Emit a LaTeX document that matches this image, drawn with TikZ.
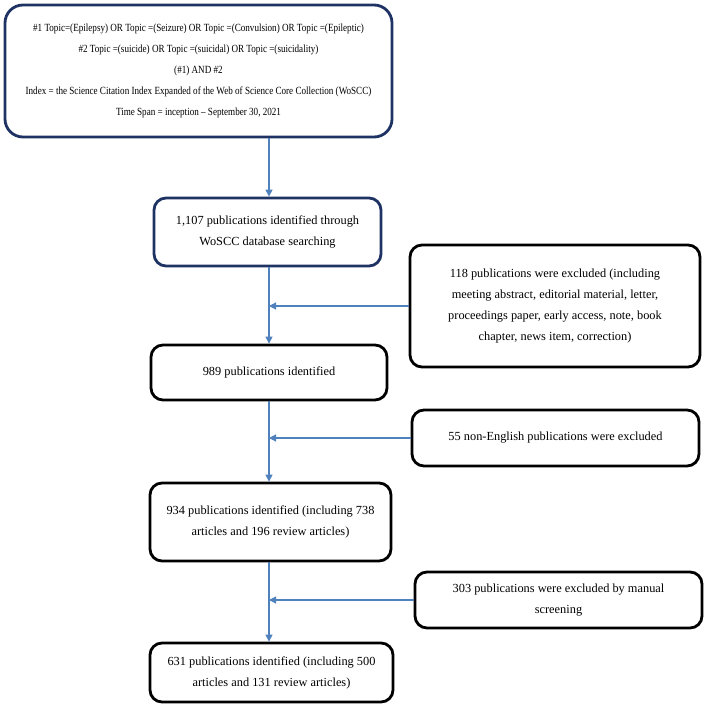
\documentclass[tikz,border=0pt]{standalone}
\usepackage{fontspec}
\setmainfont{Liberation Serif}
\newfontfamily\topfont[FakeStretch=0.83,Ligatures=TeX]{Liberation Serif}
\usetikzlibrary{arrows.meta}
\definecolor{navy}{HTML}{1F3264}
\definecolor{arrowblue}{HTML}{4F81BD}
\tikzset{
  navybox/.style={draw=navy, line width=2.8bp, rounded corners=12bp, align=center, inner sep=0pt},
  blackbox/.style={draw=black, line width=2.8bp, rounded corners=12bp, align=center, inner sep=0pt},
  flow/.style={draw=arrowblue, line width=1.1bp, -{Triangle[width=7bp,length=7bp]}},
  maintext/.style={font=\fontsize{12.4}{21}\selectfont},
  toptext/.style={font=\topfont\fontsize{11}{21.2}\selectfont}
}
\begin{document}
\begin{tikzpicture}[x=1bp,y=-1bp]
\useasboundingbox (0,0) rectangle (708,708);
\node[navybox, toptext, rounded corners=18bp, minimum width=387bp, minimum height=132bp] (top) at (198.5,71)
 {\#1 Topic=(Epilepsy) OR Topic =(Seizure) OR Topic =(Convulsion) OR Topic =(Epileptic)\\
  \#2 Topic =(suicide) OR Topic =(suicidal) OR Topic =(suicidality)\\
  (\#1) AND \#2\\
  Index = the Science Citation Index Expanded of the Web of Science Core Collection (WoSCC)\\
  Time Span = inception – September 30, 2021};
\node[navybox, maintext, minimum width=227bp, minimum height=68bp] (b2) at (267.5,232)
 {1,107 publications identified through\\ WoSCC database searching};
\node[blackbox, maintext, minimum width=290bp, minimum height=122bp] (b3) at (555,306)
 {118 publications were excluded (including\\ meeting abstract, editorial material, letter,\\ proceedings paper, early access, note, book\\ chapter, news item, correction)};
\node[blackbox, maintext, minimum width=236bp, minimum height=55bp] (b4) at (269,372.5)
 {989 publications identified};
\node[blackbox, maintext, minimum width=287bp, minimum height=56bp] (b5) at (555.5,438)
 {55 non-English publications were excluded};
\node[blackbox, maintext, minimum width=241bp, minimum height=78bp] (b6) at (270.5,522)
 {934 publications identified (including 738\\ articles and 196 review articles)};
\node[blackbox, maintext, minimum width=287bp, minimum height=56bp] (b7) at (558.5,600)
 {303 publications were excluded by manual\\ screening};
\node[blackbox, maintext, minimum width=243bp, minimum height=59bp] (b8) at (271.5,672.5)
 {631 publications identified (including 500\\ articles and 131 review articles)};
\coordinate (x) at (269,0);
\draw[flow] (top.south -| x) -- (b2.north -| x);
\draw[flow] (b2.south -| x) -- (b4.north -| x);
\draw[flow] (b3.west) -- (b3.west -| x);
\draw[flow] (b4.south -| x) -- (b6.north -| x);
\draw[flow] (b5.west) -- (b5.west -| x);
\draw[flow] (b6.south -| x) -- (b8.north -| x);
\draw[flow] (b7.west) -- (b7.west -| x);
\end{tikzpicture}
\end{document}
